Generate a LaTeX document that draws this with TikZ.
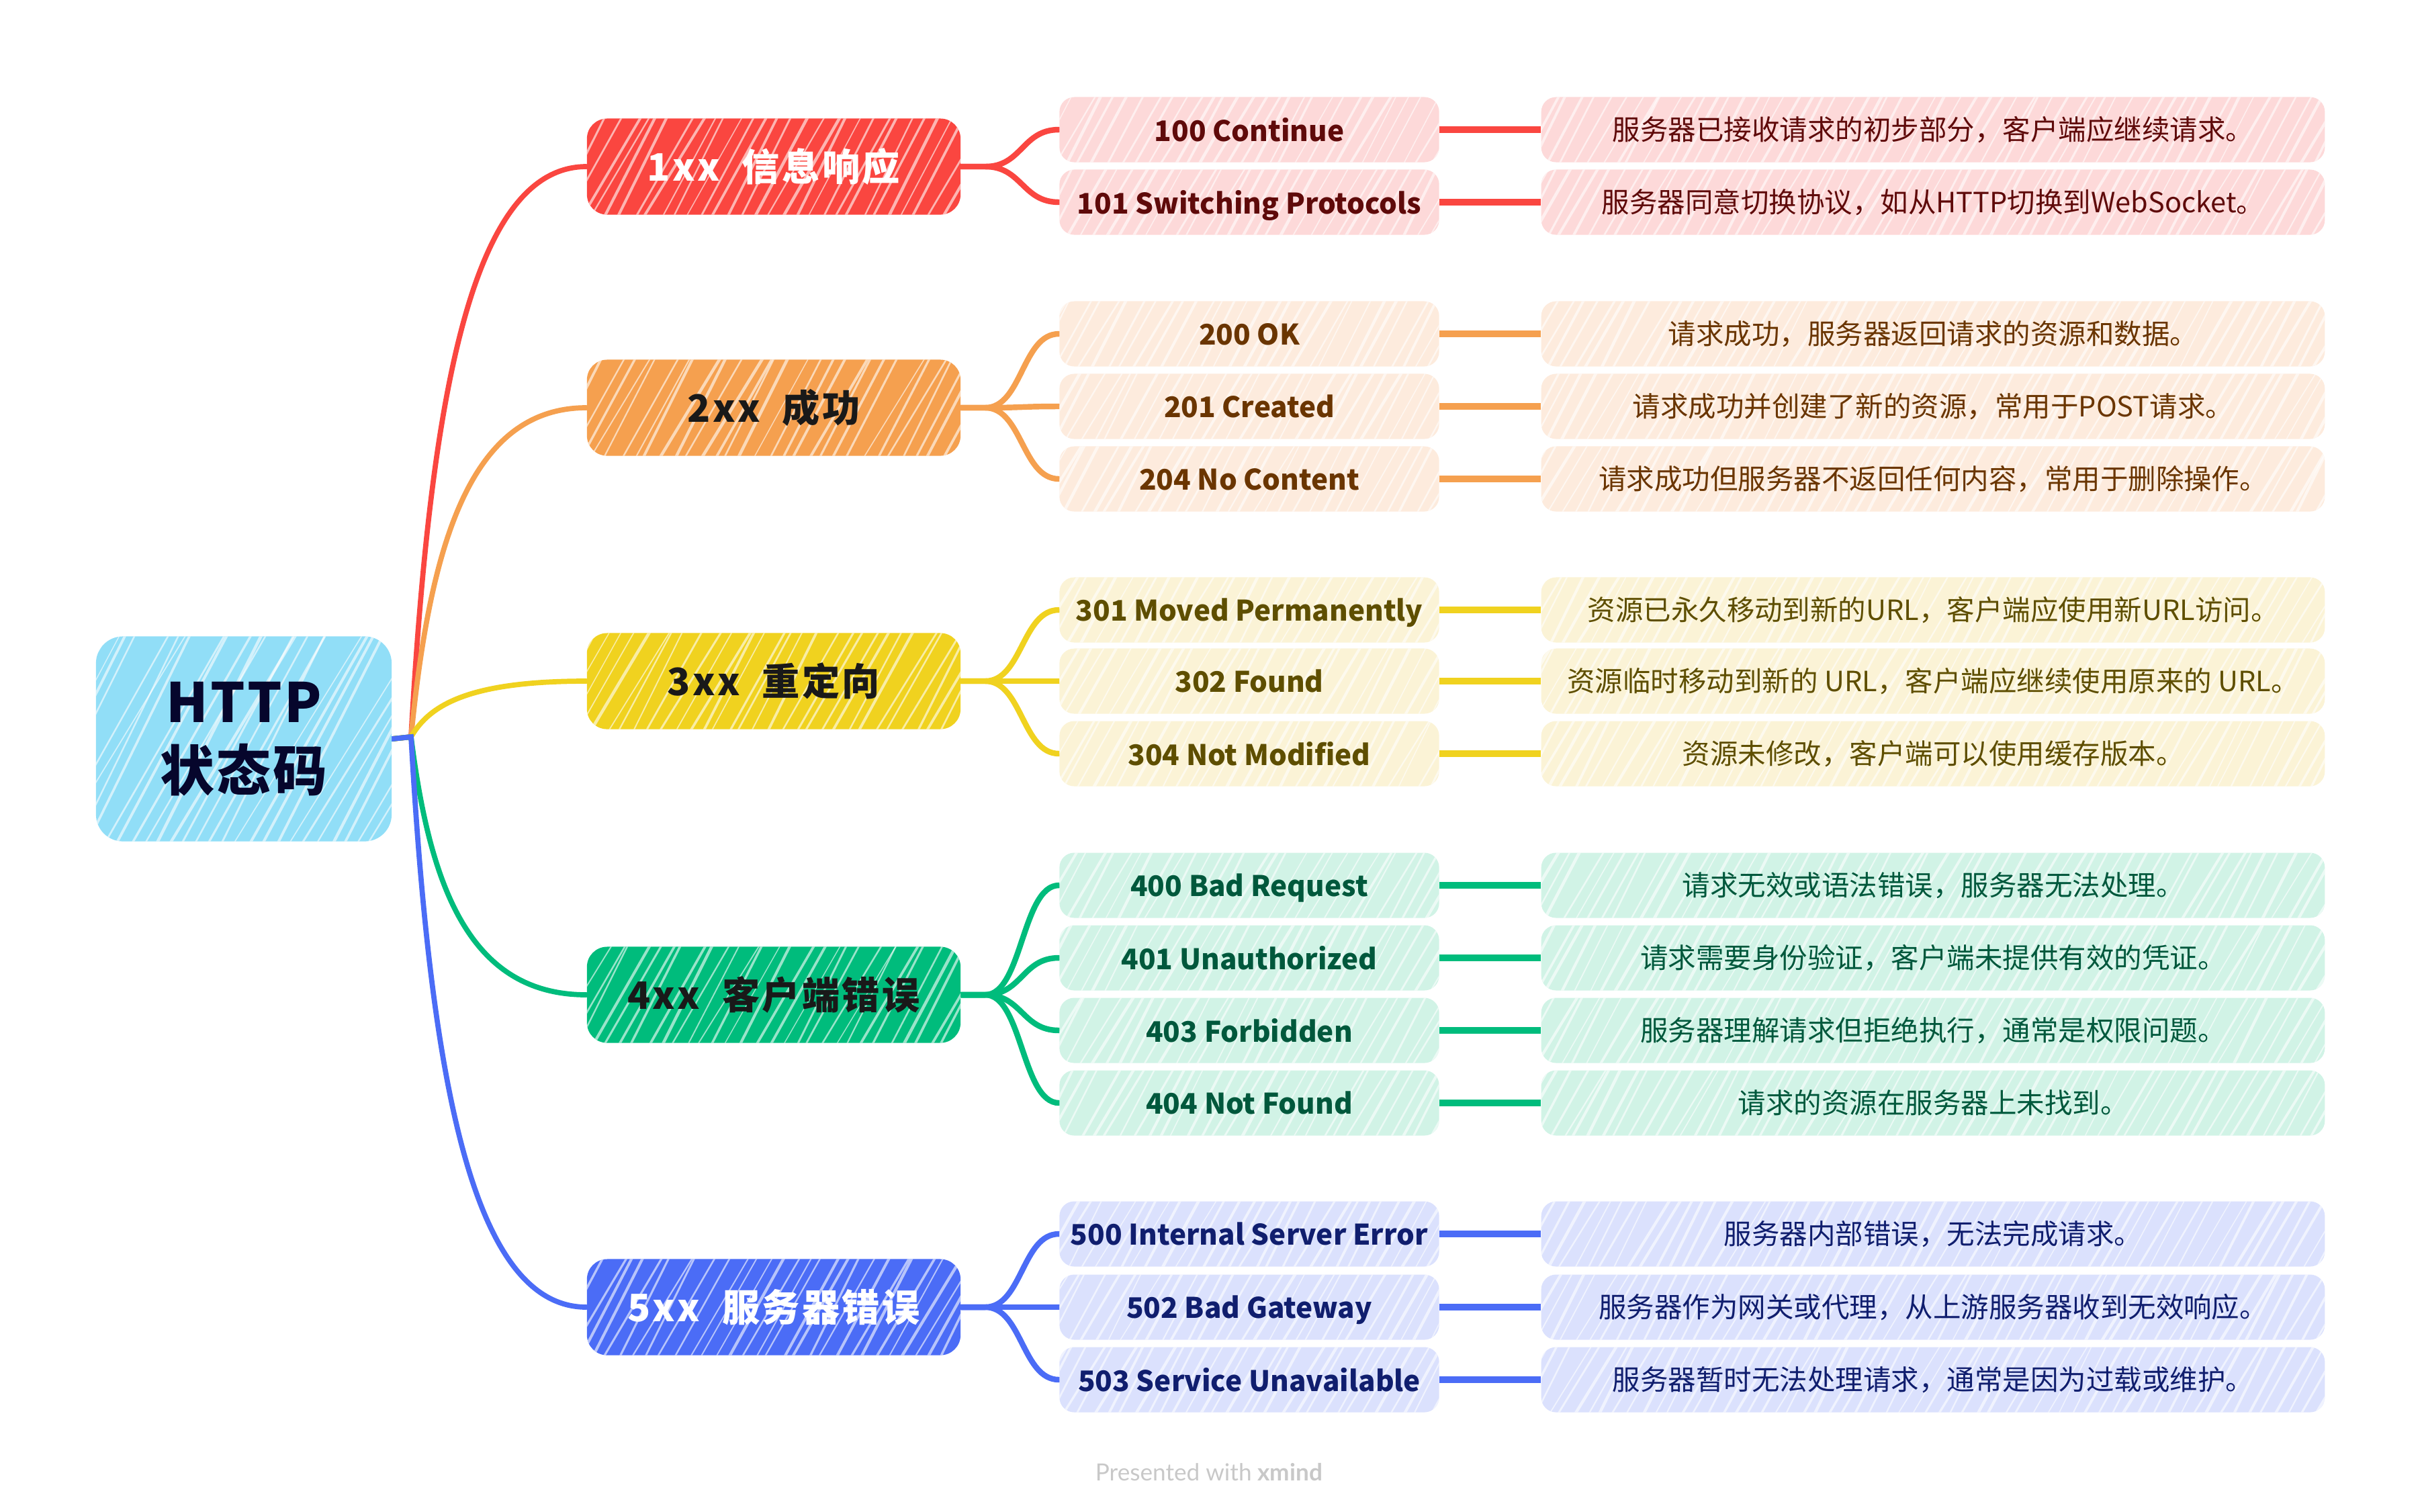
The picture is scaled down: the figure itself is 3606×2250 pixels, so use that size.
\documentclass[tikz,border=0pt]{standalone}
\usepackage{fontspec}
\setmainfont{Noto Sans CJK SC}
\newfontfamily\footfont{Lato}
\usetikzlibrary{calc,backgrounds}
\definecolor{redM}{HTML}{FA4640}\definecolor{redL}{HTML}{FDD9D9}\definecolor{redT}{HTML}{5F0A0A}
\definecolor{orgM}{HTML}{F5A04F}\definecolor{orgL}{HTML}{FDEBDD}\definecolor{orgT}{HTML}{6A3500}
\definecolor{yelM}{HTML}{F0D21F}\definecolor{yelL}{HTML}{FBF3D6}\definecolor{yelT}{HTML}{5E4E00}
\definecolor{grnM}{HTML}{00BC7C}\definecolor{grnL}{HTML}{D1F3E6}\definecolor{grnT}{HTML}{00583C}
\definecolor{bluM}{HTML}{4B6CF6}\definecolor{bluL}{HTML}{DBE1FD}\definecolor{bluT}{HTML}{101E6E}
\definecolor{rootF}{HTML}{91DEF7}\definecolor{rootT}{HTML}{06062C}
\definecolor{footC}{HTML}{C8C8C8}
\pgfmathsetseed{4711}
\tikzset{
  hatch/.style={path picture={
    \path (path picture bounding box.south west) coordinate (hsw);
    \foreach \k in {-9,...,62}{
      \pgfmathsetmacro\lw{0.4+rnd*0.9}
      \draw[white,line width=\lw pt,opacity=0.6] ($(hsw)+(\k*0.2cm+rnd*0.1cm,-0.1cm)$) -- ++(58+rnd*6:4cm);
    }}},
  rootbox/.style={hatch,fill=rootF,rounded corners=0.4cm,minimum width=4.4cm,minimum height=3.05cm,
    inner sep=0pt,align=center,text=rootT,font=\bfseries\fontsize{23}{29}\selectfont\addfontfeature{LetterSpace=4}},
  topicbox/.style={hatch,fill=#1,rounded corners=0.3cm,minimum width=5.56cm,minimum height=1.43cm,
    inner sep=0pt,font=\bfseries\fontsize{16}{20}\selectfont\addfontfeature{LetterSpace=6}},
  codebox/.style={hatch,fill=#1,rounded corners=0.22cm,minimum width=5.65cm,minimum height=0.97cm,
    inner sep=0pt,text depth=0pt,font=\bfseries\fontsize{12}{14}\selectfont},
  descbox/.style={hatch,fill=#1,rounded corners=0.22cm,minimum width=11.66cm,minimum height=0.97cm,
    inner sep=0pt,font=\fontsize{11.8}{14}\selectfont},
  trunk/.style={draw=#1,line width=2.2pt,line cap=round},
  twig/.style={draw=#1,line width=2.4pt,line cap=round},
  stub/.style={draw=#1,line width=3pt},
}
\begin{document}
\begin{tikzpicture}[x=0.01cm,y=-0.01cm]
\useasboundingbox (0,0) rectangle (3606,2250);
% root
\node[rootbox] (root) at (363,1100) {HTTP\\状态码};
\coordinate (J) at (612,1097);
% level 1
\node[topicbox=redM,text=white] (t1) at (1152,248) {1xx\ \ 信息响应};
\node[topicbox=orgM,text=black!90] (t2) at (1152,607) {2xx\ \ 成功};
\node[topicbox=yelM,text=black!90] (t3) at (1152,1014) {3xx\ \ 重定向};
\node[topicbox=grnM,text=black!90] (t4) at (1152,1481) {4xx\ \ 客户端错误};
\node[topicbox=bluM,text=white] (t5) at (1152,1946) {5xx\ \ 服务器错误};
% level 2 and 3 : 1xx
\node[codebox=redL,text=redT] (c100) at (1860,193) {100 Continue};
\node[codebox=redL,text=redT] (c101) at (1860,301) {101 Switching Protocols};
\node[descbox=redL,text=redT] (d100) at (2878,193) {服务器已接收请求的初步部分，客户端应继续请求。};
\node[descbox=redL,text=redT] (d101) at (2878,301) {服务器同意切换协议，如从HTTP切换到WebSocket。};
% 2xx
\node[codebox=orgL,text=orgT] (c200) at (1860,497) {200 OK};
\node[codebox=orgL,text=orgT] (c201) at (1860,605) {201 Created};
\node[codebox=orgL,text=orgT] (c204) at (1860,713) {204 No Content};
\node[descbox=orgL,text=orgT] (d200) at (2878,497) {请求成功，服务器返回请求的资源和数据。};
\node[descbox=orgL,text=orgT] (d201) at (2878,605) {请求成功并创建了新的资源，常用于POST请求。};
\node[descbox=orgL,text=orgT] (d204) at (2878,713) {请求成功但服务器不返回任何内容，常用于删除操作。};
% 3xx
\node[codebox=yelL,text=yelT] (c301) at (1860,908) {301 Moved Permanently};
\node[codebox=yelL,text=yelT] (c302) at (1860,1014) {302 Found};
\node[codebox=yelL,text=yelT] (c304) at (1860,1122) {304 Not Modified};
\node[descbox=yelL,text=yelT] (d301) at (2878,908) {资源已永久移动到新的URL，客户端应使用新URL访问。};
\node[descbox=yelL,text=yelT] (d302) at (2878,1014) {资源临时移动到新的 URL，客户端应继续使用原来的 URL。};
\node[descbox=yelL,text=yelT] (d304) at (2878,1122) {资源未修改，客户端可以使用缓存版本。};
% 4xx
\node[codebox=grnL,text=grnT] (c400) at (1860,1318) {400 Bad Request};
\node[codebox=grnL,text=grnT] (c401) at (1860,1426) {401 Unauthorized};
\node[codebox=grnL,text=grnT] (c403) at (1860,1534) {403 Forbidden};
\node[codebox=grnL,text=grnT] (c404) at (1860,1642) {404 Not Found};
\node[descbox=grnL,text=grnT] (d400) at (2878,1318) {请求无效或语法错误，服务器无法处理。};
\node[descbox=grnL,text=grnT] (d401) at (2878,1426) {请求需要身份验证，客户端未提供有效的凭证。};
\node[descbox=grnL,text=grnT] (d403) at (2878,1534) {服务器理解请求但拒绝执行，通常是权限问题。};
\node[descbox=grnL,text=grnT] (d404) at (2878,1642) {请求的资源在服务器上未找到。};
% 5xx
\node[codebox=bluL,text=bluT] (c500) at (1860,1837) {500 Internal Server Error};
\node[codebox=bluL,text=bluT] (c502) at (1860,1946) {502 Bad Gateway};
\node[codebox=bluL,text=bluT] (c503) at (1860,2054) {503 Service Unavailable};
\node[descbox=bluL,text=bluT] (d500) at (2878,1837) {服务器内部错误，无法完成请求。};
\node[descbox=bluL,text=bluT] (d502) at (2878,1946) {服务器作为网关或代理，从上游服务器收到无效响应。};
\node[descbox=bluL,text=bluT] (d503) at (2878,2054) {服务器暂时无法处理请求，通常是因为过载或维护。};
% footer
\node[text=footC,font=\footfont\fontsize{10}{12}\selectfont] (foot) at (1800,2192) {Presented with \textbf{xmind}};
\begin{scope}[on background layer]
  % root to topics
  \foreach \t/\c in {t1/redM,t2/orgM,t3/yelM,t4/grnM,t5/bluM}{
    \path[trunk=\c] (root.east) -- (J) .. controls ($(J)!0.585!(J|-\t.west)+(28,0)$) and ($(J|-\t.west)+(88,0)$) .. (\t.west);
  }
  % topics to codes
  \foreach \t/\s/\c in {t1/c100/redM,t1/c101/redM,
      t2/c200/orgM,t2/c201/orgM,t2/c204/orgM,
      t3/c301/yelM,t3/c302/yelM,t3/c304/yelM,
      t4/c400/grnM,t4/c401/grnM,t4/c403/grnM,t4/c404/grnM,
      t5/c500/bluM,t5/c502/bluM,t5/c503/bluM}{
    \path[twig=\c] (\t.east) -- ++(36,0) .. controls +(55,0) and +(-55,0) .. (\s.west);
  }
  % codes to descriptions
  \foreach \a/\b/\c in {c100/d100/redM,c101/d101/redM,
      c200/d200/orgM,c201/d201/orgM,c204/d204/orgM,
      c301/d301/yelM,c302/d302/yelM,c304/d304/yelM,
      c400/d400/grnM,c401/d401/grnM,c403/d403/grnM,c404/d404/grnM,
      c500/d500/bluM,c502/d502/bluM,c503/d503/bluM}{
    \path[stub=\c] (\a.east) -- (\b.west);
  }
\end{scope}
\end{tikzpicture}
\end{document}
